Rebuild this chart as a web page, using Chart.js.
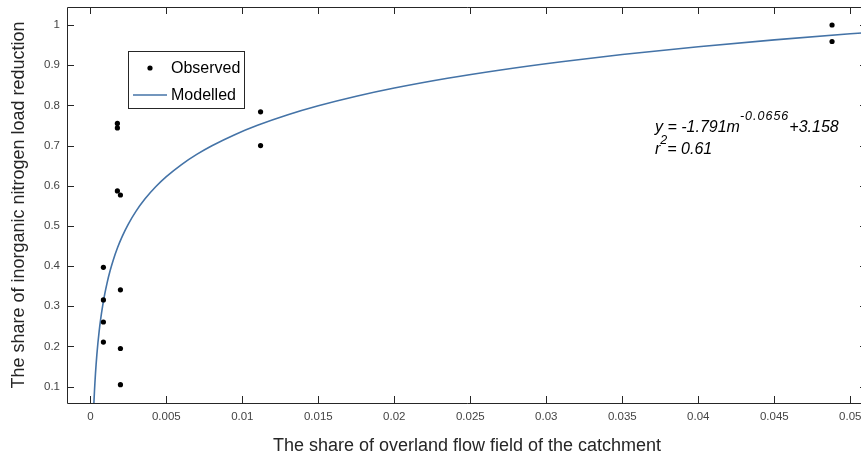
<!DOCTYPE html>
<html>
<head>
<meta charset="utf-8">
<script src="https://cdn.jsdelivr.net/npm/chart.js@4/dist/chart.umd.min.js"></script>
<style>
  html, body { margin: 0; padding: 0; background: #fff; overflow: hidden; }
  #wrap { width: 867px; height: 459px; position: relative; }
</style>
</head>
<body>
<div id="wrap"><canvas id="fig"></canvas></div>
<script>
// observed share of overland flow field (m) and load reduction
const obsM = [0.00086, 0.00086, 0.00086, 0.00086, 0.00178, 0.00178, 0.00178, 0.00198, 0.00198, 0.00198, 0.00198, 0.0112, 0.0112, 0.0488, 0.0488];
const obsR = [0.397, 0.316, 0.261, 0.211, 0.755, 0.744, 0.587, 0.577, 0.341, 0.195, 0.105, 0.784, 0.700, 1.000, 0.959];

// fitted model y = a*m^b + c
const fitA = -1.791;
const fitB = -0.0656;
const fitC = 3.158;
const fitR2 = 0.61;
const modelM = [0.00022, 0.00024, 0.00027, 0.0003, 0.00034, 0.00038, 0.00043, 0.0005, 0.00058, 0.00068, 0.0008, 0.00095,
  0.0011, 0.0013, 0.0015, 0.0018, 0.0021, 0.0025, 0.003, 0.0036, 0.0043, 0.005, 0.006, 0.007, 0.008, 0.0095, 0.011,
  0.013, 0.015, 0.0175, 0.02, 0.0235, 0.027, 0.031, 0.035, 0.04, 0.045, 0.05, 0.0515];

const xTicks = [0, 0.005, 0.01, 0.015, 0.02, 0.025, 0.03, 0.035, 0.04, 0.045, 0.05];
const yTicks = [0.1, 0.2, 0.3, 0.4, 0.5, 0.6, 0.7, 0.8, 0.9, 1];

const observed = obsM.map((m, i) => ({ x: m, y: obsR[i] }));
const modelled = modelM.map(m => ({ x: m, y: fitA * Math.pow(m, fitB) + fitC }));

const AXIS = "#262626";
const LINE = "#4473a7";
const FONT = "'Liberation Sans', Arial, sans-serif";

// box on three sides + inward ticks on all four sides, legend, fit text
const framePlugin = {
  id: "frame",
  afterDraw(chart) {
    const { ctx, chartArea: a, scales } = chart;
    const L = 7;
    ctx.save();
    ctx.strokeStyle = AXIS;
    ctx.lineWidth = 1;
    ctx.beginPath();
    ctx.moveTo(a.left + 0.5, a.bottom + 0.5);
    ctx.lineTo(a.left + 0.5, a.top + 0.5);
    ctx.lineTo(a.right, a.top + 0.5);
    ctx.moveTo(a.left + 0.5, a.bottom + 0.5);
    ctx.lineTo(a.right, a.bottom + 0.5);
    scales.x.ticks.forEach(t => {
      const px = Math.round(scales.x.getPixelForValue(t.value)) + 0.5;
      ctx.moveTo(px, a.bottom); ctx.lineTo(px, a.bottom - L);
      ctx.moveTo(px, a.top); ctx.lineTo(px, a.top + L);
    });
    scales.y.ticks.forEach(t => {
      const py = Math.round(scales.y.getPixelForValue(t.value)) + 0.5;
      ctx.moveTo(a.left, py); ctx.lineTo(a.left + L, py);
      ctx.moveTo(a.right, py); ctx.lineTo(a.right - L, py);
    });
    ctx.stroke();

    // legend
    const bx = 128.5, by = 51.5, bw = 116, bh = 57;
    ctx.fillStyle = "#fff";
    ctx.fillRect(bx, by, bw, bh);
    ctx.strokeStyle = AXIS;
    ctx.strokeRect(bx, by, bw, bh);
    ctx.fillStyle = "#000";
    ctx.beginPath();
    ctx.arc(150, 68, 2.6, 0, Math.PI * 2);
    ctx.fill();
    ctx.strokeStyle = LINE;
    ctx.lineWidth = 1.6;
    ctx.beginPath();
    ctx.moveTo(133, 95); ctx.lineTo(167, 95);
    ctx.stroke();
    ctx.font = "16px " + FONT;
    ctx.textBaseline = "middle";
    ctx.fillStyle = "#000";
    ctx.fillText(chart.data.datasets[0].label, 171, 68.5);
    ctx.fillText(chart.data.datasets[1].label, 171, 95.5);

    // fitted equation
    ctx.textBaseline = "alphabetic";
    const big = "italic 16px " + FONT, small = "italic 12.5px " + FONT;
    let x = 655;
    const seg = (txt, font, y, sp) => {
      ctx.font = font;
      ctx.letterSpacing = sp ? sp + "px" : "0px";
      ctx.fillText(txt, x, y);
      x += ctx.measureText(txt).width;
    };
    seg("y = " + fitA.toFixed(3) + "m", big, 132);
    seg(fitB.toString(), small, 120, 1);
    seg("+" + fitC.toFixed(3), big, 132);
    x = 655;
    seg("r", big, 154);
    seg("2", small, 144);
    seg("= " + fitR2.toFixed(2), big, 154);
    ctx.restore();
  }
};

new Chart(document.getElementById("fig"), {
  type: "scatter",
  data: {
    datasets: [
      {
        label: "Observed",
        data: observed,
        pointRadius: 2.6,
        pointHoverRadius: 2.6,
        pointBackgroundColor: "#000",
        pointBorderWidth: 0,
        showLine: false,
        order: 0,
      },
      {
        label: "Modelled",
        data: modelled,
        showLine: true,
        borderColor: LINE,
        borderWidth: 1.6,
        pointRadius: 0,
        cubicInterpolationMode: "monotone",
        order: 1,
      },
    ],
  },
  options: {
    responsive: true,
    maintainAspectRatio: false,
    animation: false,
    events: [],
    layout: { autoPadding: false, padding: { top: 7, right: 0, left: 0, bottom: 0 } },
    plugins: { legend: { display: false }, tooltip: { enabled: false } },
    scales: {
      x: {
        type: "linear",
        min: -0.001535,
        max: 0.0511,
        afterBuildTicks: s => { s.ticks = xTicks.map(v => ({ value: v })); },
        afterFit: s => { s.height = 56; s.paddingLeft = 0; s.paddingRight = 0; },
        grid: { display: false, drawTicks: false },
        border: { display: false },
        ticks: { color: "#444", font: { family: FONT, size: 11.5 }, padding: 7, maxRotation: 0, callback: v => String(v) },
        title: { display: true, text: "The share of overland flow field of the catchment", color: AXIS, font: { family: FONT, size: 18 }, padding: { top: 0, bottom: 2 } },
      },
      y: {
        type: "linear",
        min: 0.0594,
        max: 1.0448,
        afterBuildTicks: s => { s.ticks = yTicks.map(v => ({ value: v })); },
        afterFit: s => { s.width = 67; s.paddingTop = 0; s.paddingBottom = 0; },
        grid: { display: false, drawTicks: false },
        border: { display: false },
        ticks: { color: "#444", font: { family: FONT, size: 11.5 }, padding: 7, callback: v => String(v) },
        title: { display: true, text: "The share of inorganic nitrogen load reduction", color: AXIS, font: { family: FONT, size: 18 }, padding: { top: 8, bottom: 0 } },
      },
    },
  },
  plugins: [framePlugin],
});
</script>
</body>
</html>
